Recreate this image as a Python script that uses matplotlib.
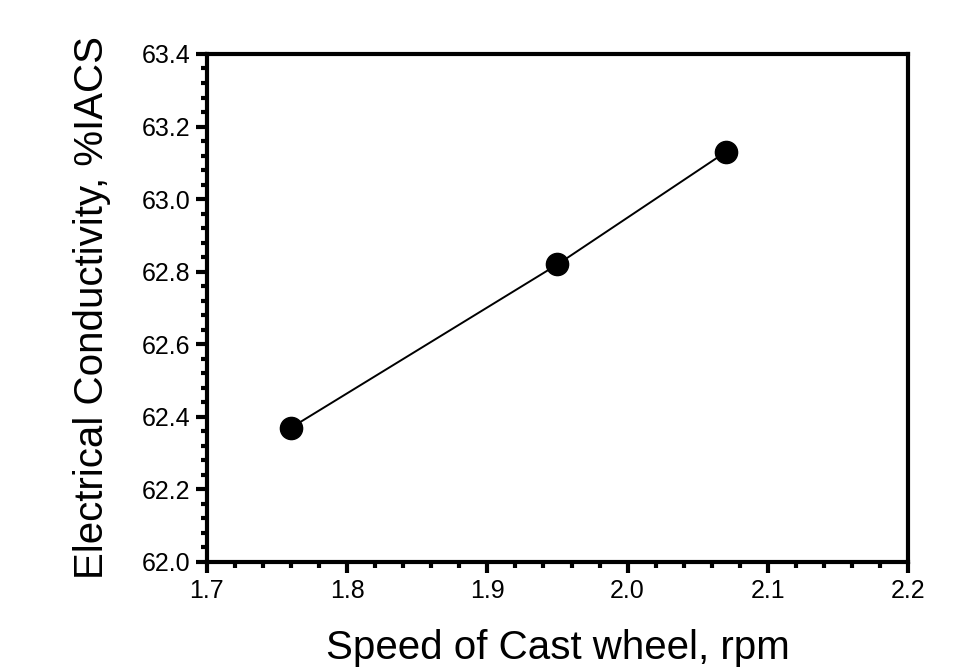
import matplotlib
matplotlib.use('Agg')
import matplotlib.pyplot as plt
from matplotlib.ticker import MultipleLocator, FormatStrFormatter

# data
speed = [1.76, 1.95, 2.07]
conductivity = [62.37, 62.82, 63.13]

plt.rcParams['font.family'] = ['Liberation Sans', 'DejaVu Sans']

fig = plt.figure(figsize=(9.62, 6.72), dpi=100)
ax = fig.add_axes([0.215, 0.1637, 0.729, 0.756])

ax.plot(speed, conductivity, color='black', linewidth=1.4, marker='o',
        markersize=16, markerfacecolor='black', markeredgecolor='black')

ax.set_xlim(1.7, 2.2)
ax.set_ylim(62.0, 63.4)
ax.xaxis.set_major_locator(MultipleLocator(0.1))
ax.xaxis.set_minor_locator(MultipleLocator(0.02))
ax.yaxis.set_major_locator(MultipleLocator(0.2))
ax.yaxis.set_minor_locator(MultipleLocator(0.04))
ax.xaxis.set_major_formatter(FormatStrFormatter('%.1f'))
ax.yaxis.set_major_formatter(FormatStrFormatter('%.1f'))

for s in ax.spines.values():
    s.set_linewidth(3)
ax.tick_params(which='major', direction='out', length=8, width=3, labelsize=18)
ax.tick_params(axis='x', which='major', pad=4)
ax.tick_params(axis='y', which='major', pad=4)
ax.tick_params(which='minor', direction='out', length=4.5, width=3)

ax.set_xlabel('Speed of Cast wheel, rpm', fontsize=29, labelpad=19)
ax.set_ylabel('Electrical Conductivity, %IACS', fontsize=29, labelpad=22)

fig.savefig('out.png', dpi=100)
